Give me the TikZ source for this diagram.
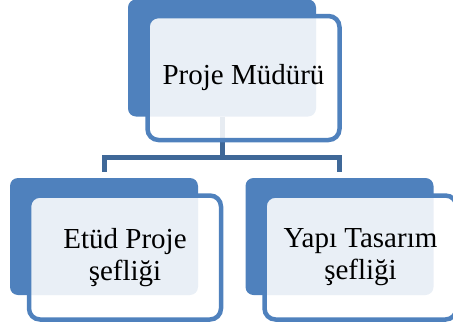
\documentclass[tikz,border=0pt]{standalone}
\usepackage{fontspec}
\setmainfont{Liberation Serif}
\definecolor{accent}{HTML}{4F81BD}
\definecolor{linkblue}{HTML}{3F6898}
\begin{document}
\begin{tikzpicture}[x=1pt,y=1pt,
  backcard/.style={fill=accent, rounded corners=8pt, minimum width=188pt,
    minimum height=117pt, inner sep=0pt},
  frontcard/.style={draw=accent, line width=4.5pt, fill=white, fill opacity=0.88,
    text opacity=1, rounded corners=11pt, minimum width=192pt, minimum height=124pt,
    align=center, inner sep=0pt, font=\fontsize{29}{32}\selectfont},
  link/.style={draw=linkblue, line width=5pt}]
\useasboundingbox (0,0) rectangle (453,-327);
\clip (0,0) rectangle (453,-327);
% solid back cards
\node[backcard] (rootback) at (222,-58) {};
\node[backcard] (leftback) at (104,-236.5) {};
\node[backcard] (rightback) at (339.5,-236.5) {};
% tree connectors (under the front cards)
\draw[link] (rootback.south) -- ++(0,-41) coordinate (split);
\draw[link] ([yshift=6pt]leftback.north) |- (split) -| ([yshift=6pt]rightback.north);
% translucent front cards with the titles
\node[frontcard] (root) at (243.5,-78) {Proje Müdürü};
\node[frontcard] (left) at (125,-257.5) {Etüd Proje\\şefliği};
\node[frontcard] (right) at (360.5,-257.5) {Yapı Tasarım\\şefliği};
\end{tikzpicture}
\end{document}
